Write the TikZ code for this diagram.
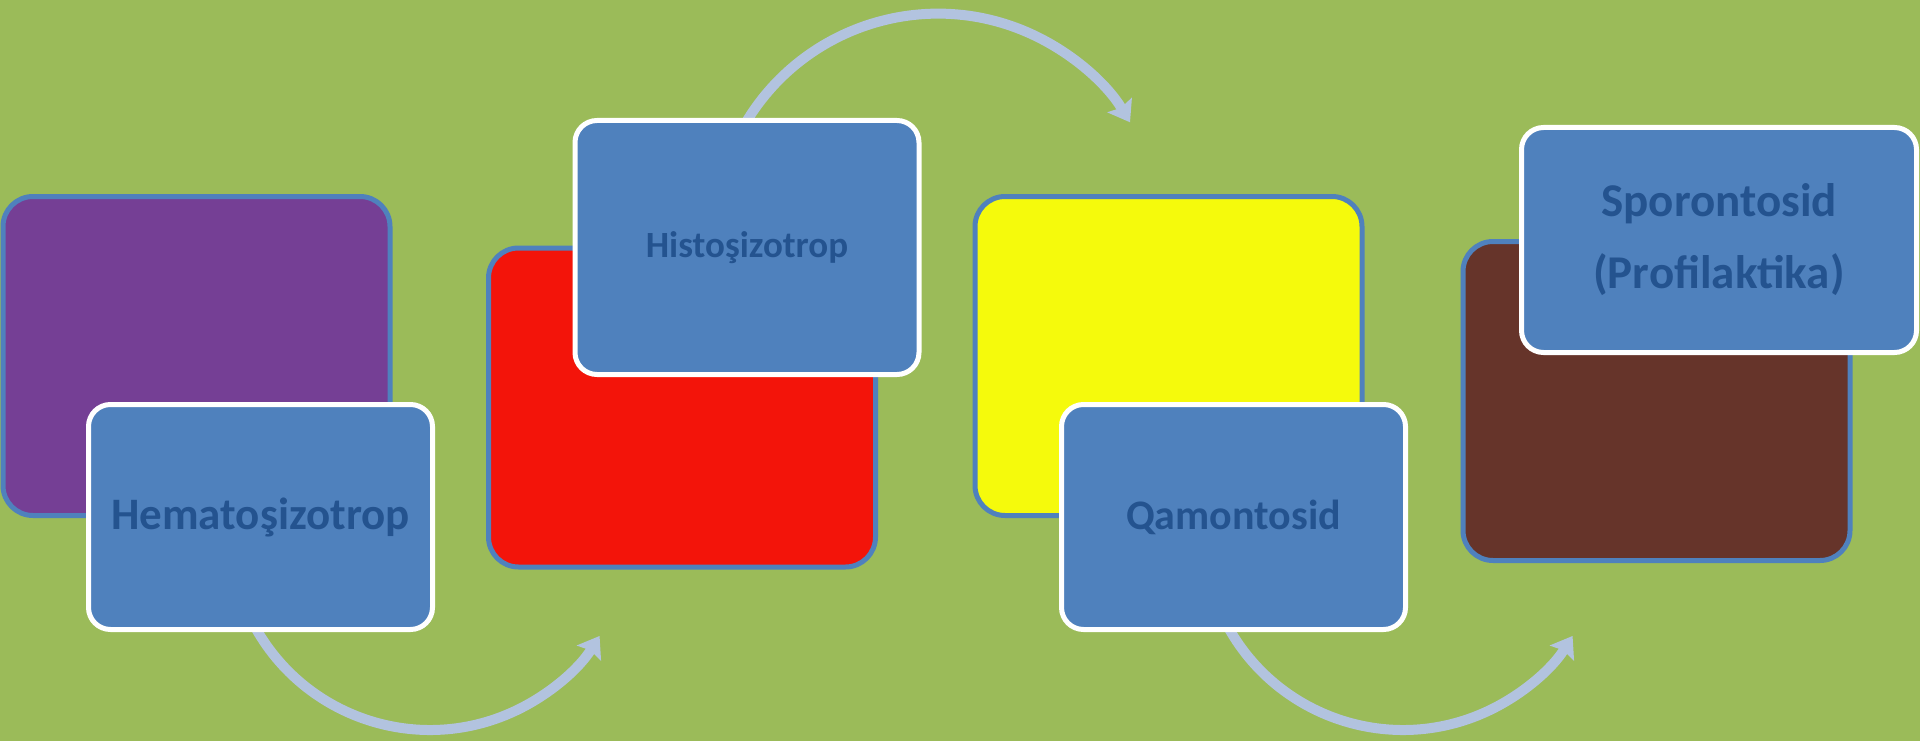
\documentclass[tikz,border=0pt]{standalone}
\usepackage{fontspec}
\setmainfont{Carlito}
\usetikzlibrary{arrows.meta}
\definecolor{bg}{HTML}{9BBB59}
\definecolor{edgeblue}{HTML}{4F81BD}
\definecolor{boxblue}{HTML}{4F81BD}
\definecolor{textblue}{HTML}{24538F}
\definecolor{arrowblue}{HTML}{B2C3DF}
\definecolor{stpurple}{HTML}{753F95}
\definecolor{stred}{HTML}{F3140A}
\definecolor{styellow}{HTML}{F5FA0C}
\definecolor{stbrown}{HTML}{66342A}

\begin{document}
\begin{tikzpicture}[x=1pt,y=1pt,
  stage/.style={draw=edgeblue,line width=5pt,rounded corners=30pt,minimum width=387pt,minimum height=319pt},
  term/.style={fill=boxblue,draw=white,line width=5pt,rounded corners=22pt,minimum width=344pt,minimum height=225pt,
    inner sep=0pt,text=textblue,align=center,font=\bfseries\fontsize{45}{54}\selectfont},
  flow/.style={draw=arrowblue,line width=10pt,-{Stealth[length=20pt,width=28pt,inset=3pt]}}]
\fill[bg] (0,-741) rectangle (1920,0);
\useasboundingbox (0,-741) rectangle (1920,0);
% coloured stages
\node[stage,fill=stpurple] (pur) at (196.5,-356) {};
\node[stage,fill=stred] (red) at (682,-407.5) {};
\node[stage,fill=styellow] (yel) at (1168.5,-356) {};
\node[stage,fill=stbrown] (bro) at (1656.5,-401) {};
% curved arrows
\coordinate (a1) at (248.7,-614.5);
\coordinate (a2) at (735,-143);
\coordinate (a3) at (1221.7,-614.5);
\draw[flow] (a1) arc[start angle=205,end angle=328,radius=200];
\draw[flow] (a2) arc[start angle=155,end angle=31,radius=224];
\draw[flow] (a3) arc[start angle=205,end angle=328,radius=200];
% names
\node[term] (hem) at (260.5,-517) {Hematoşizotrop};
\node[term,minimum height=254pt,font=\bfseries\fontsize{37}{44}\selectfont] (his) at (747,-247.5) {Histoşizotrop};
\node[term,font=\bfseries\fontsize{42}{50}\selectfont] (qam) at (1233.5,-517) {Qamontosid};
\node[term,minimum width=395pt,font=\bfseries\fontsize{47}{72}\selectfont] (spo) at (1719,-240) {Sporontosid\\(Profilaktika)};
\end{tikzpicture}
\end{document}
